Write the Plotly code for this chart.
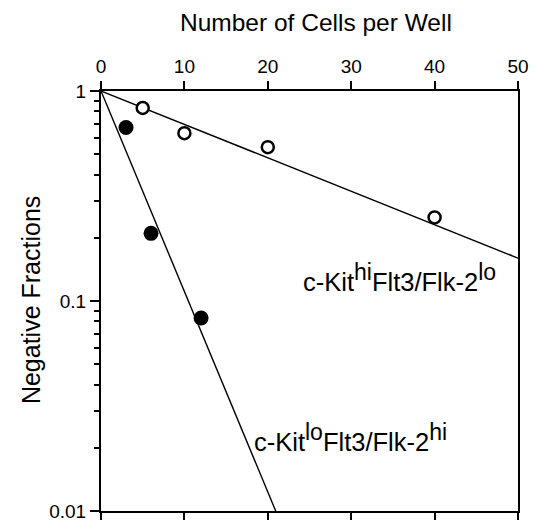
import plotly.graph_objects as go

# Data
open_x = [5, 10, 20, 40]
open_y = [0.83, 0.63, 0.54, 0.25]
filled_x = [3, 6, 12]
filled_y = [0.67, 0.21, 0.083]
# fitted lines (endpoints)
hi_line_x = [0, 50]
hi_line_y = [1, 0.16]
lo_line_x = [0, 20.95]
lo_line_y = [1, 0.01]

x_ticks = [0, 10, 20, 30, 40, 50]
y_ticks = [0.01, 0.1, 1]
y_tick_labels = ["0.01", "0.1", "1"]
y_minor = [m * 10 ** k for k in (-2, -1) for m in range(2, 10)]

SUP = "<sup><span style='font-size:23px'>{}</span></sup>"
label_hi = "c-Kit" + SUP.format("hi") + "Flt3/Flk-2" + SUP.format("lo")
label_lo = "c-Kit" + SUP.format("lo") + "Flt3/Flk-2" + SUP.format("hi")

FONT = "Liberation Sans, Arial, Helvetica, sans-serif"

fig = go.Figure()
fig.add_trace(go.Scatter(x=hi_line_x, y=hi_line_y, mode="lines",
                         line=dict(color="black", width=1.4), showlegend=False))
fig.add_trace(go.Scatter(x=lo_line_x, y=lo_line_y, mode="lines",
                         line=dict(color="black", width=1.4), showlegend=False))
fig.add_trace(go.Scatter(x=open_x, y=open_y, mode="markers",
                         marker=dict(symbol="circle", size=12, color="white",
                                     line=dict(color="black", width=2.5)),
                         showlegend=False, cliponaxis=False))
fig.add_trace(go.Scatter(x=filled_x, y=filled_y, mode="markers",
                         marker=dict(symbol="circle", size=15, color="black",
                                     line=dict(color="black", width=0)),
                         showlegend=False, cliponaxis=False))
# invisible trace on bottom axis for bottom ticks
fig.add_trace(go.Scatter(x=[0, 50], y=[1, 1], mode="markers", xaxis="x2",
                         marker=dict(opacity=0), showlegend=False, hoverinfo="skip"))

fig.update_layout(
    width=532, height=515,
    margin=dict(l=93, r=22, t=83, b=12, autoexpand=False),
    paper_bgcolor="white", plot_bgcolor="white",
    font=dict(family=FONT, color="black", size=19),
    xaxis=dict(
        side="top", range=[0, 50], tickvals=x_ticks,
        ticks="outside", ticklen=8, tickwidth=2, tickcolor="black",
        showline=True, linewidth=2, linecolor="black", mirror=True,
        showgrid=False, zeroline=False,
        tickfont=dict(size=19, family=FONT),
    ),
    xaxis2=dict(
        overlaying="x", side="bottom", range=[0, 50], tickvals=x_ticks,
        ticks="outside", ticklen=8, tickwidth=2, tickcolor="black",
        showticklabels=False, showline=False, showgrid=False, zeroline=False,
        anchor="y",
    ),
    yaxis=dict(
        type="log", range=[-2, 0], tickvals=y_ticks, ticktext=y_tick_labels,
        ticks="outside", ticklen=9, tickwidth=2, tickcolor="black",
        minor=dict(tickvals=y_minor, ticks="outside", ticklen=5, tickwidth=2,
                   tickcolor="black", showgrid=False),
        showline=True, linewidth=2, linecolor="black", mirror=True,
        showgrid=False, zeroline=False,
        tickfont=dict(size=19, family=FONT),
    ),
)

# axis titles
fig.add_annotation(x=0.516, y=1.0 + 83 / 420, xref="paper", yref="paper",
                   xanchor="center", yanchor="top", showarrow=False, borderpad=0,
                   text="Number of Cells per Well", font=dict(size=24.5, family=FONT))
fig.add_annotation(x=-0.168, y=0.502, xref="paper", yref="paper",
                   xanchor="center", yanchor="middle", showarrow=False, textangle=-90,
                   text="Negative Fractions", font=dict(size=25, family=FONT))
# series labels
fig.add_annotation(x=24.0, y=-0.89, xref="x", yref="y", xanchor="left", yanchor="middle",
                   text=label_hi, showarrow=False, font=dict(size=25.5, family=FONT))
fig.add_annotation(x=18.1, y=-1.652, xref="x", yref="y", xanchor="left", yanchor="middle",
                   text=label_lo, showarrow=False, font=dict(size=25.5, family=FONT))

fig.write_html("out.html")
